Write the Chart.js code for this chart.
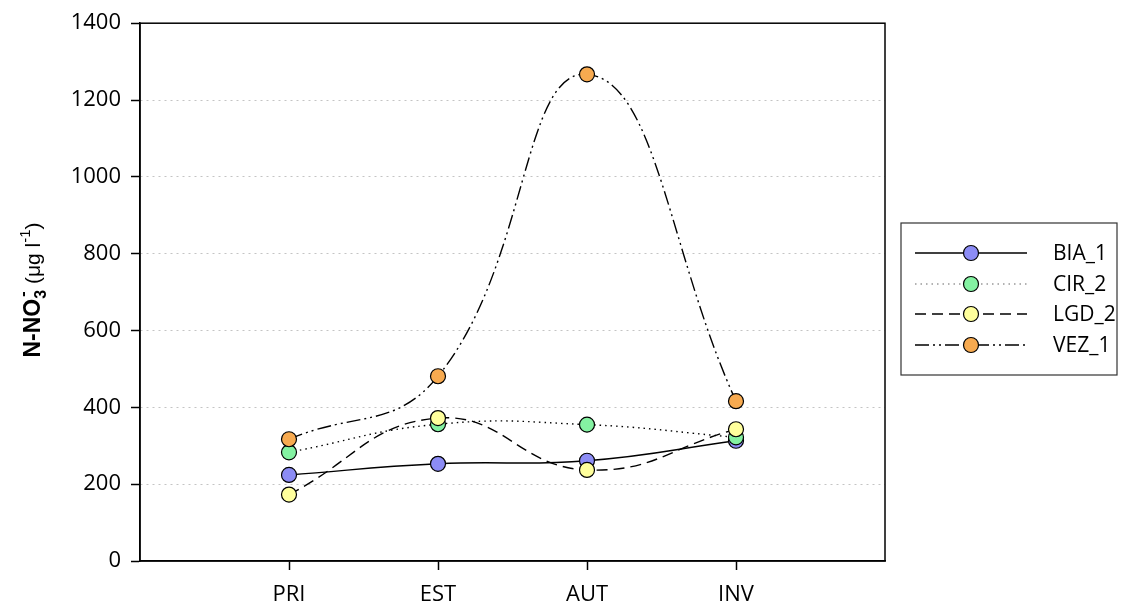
<!DOCTYPE html>
<html>
<head>
<meta charset="utf-8">
<script src="https://cdn.jsdelivr.net/npm/chart.js@4/dist/chart.umd.min.js"></script>
<style>
  html, body { margin: 0; padding: 0; background: #fff; }
  #wrap { width: 1123px; height: 608px; }
</style>
</head>
<body>
<div id="wrap"><canvas id="chart" width="1123" height="608"></canvas></div>
<script>
// categories (x positions 1..4 on a 0..5 axis)
const seasons = ['PRI', 'EST', 'AUT', 'INV'];
const seasonPos = [1, 2, 3, 4];

// N-NO3 values (ug/l)
const bia1 = [224, 253, 261, 313];
const cir2 = [283, 356, 355, 322];
const lgd2 = [173, 372, 237, 343];
const vez1 = [317, 481, 1267, 416];

const seriesNames = ['BIA_1', 'CIR_2', 'LGD_2', 'VEZ_1'];
const seriesFill = ['#8c8cf5', '#84f2a2', '#ffff9c', '#f7aa50'];
const seriesDash = [[], [1.5, 4], [11, 6], [14, 4, 2, 4, 2, 4]];

const FONT = '"Open Sans", "DejaVu Sans", sans-serif';
const TFONT = '"Liberation Sans", Arial, sans-serif';

function toPoints(vals) {
    return seasonPos.map((x, i) => ({ x: x, y: vals[i] }));
}

function makeSet(i, vals) {
    return {
        label: seriesNames[i],
        data: toPoints(vals),
        borderColor: '#000',
        borderWidth: 1.4,
        borderDash: seriesDash[i],
        tension: 0.45,
        pointRadius: 7.5,
        pointHoverRadius: 7.5,
        pointBorderColor: '#000',
        pointBorderWidth: 1.2,
        pointBackgroundColor: seriesFill[i],
        order: 4 - i
    };
}

// box around plot area
const frameBox = {
    id: 'frameBox',
    beforeDatasetsDraw(chart) {
        const a = chart.chartArea, ctx = chart.ctx;
        ctx.save();
        ctx.strokeStyle = '#000';
        ctx.lineWidth = 1.5;
        ctx.strokeRect(a.left, a.top, a.right - a.left, a.bottom - a.top);
        ctx.restore();
    }
};

// rotated y title with sub/superscripts
const yTitle = {
    id: 'yTitle',
    afterDraw(chart) {
        const ctx = chart.ctx;
        const parts = [
            { t: 'N-NO', f: 'bold 23px ' + TFONT, dy: 0 },
            { t: '3', f: 'bold 16px ' + TFONT, dy: 6 },
            { t: '-', f: 'bold 16px ' + TFONT, dy: -12, back: true },
            { t: ' (μg l', f: '21px ' + TFONT, dy: 0 },
            { t: '-1', f: '15px ' + TFONT, dy: -10 },
            { t: ')', f: '21px ' + TFONT, dy: 0 }
        ];
        ctx.save();
        let total = 0, lastW = 0;
        parts.forEach(p => {
            ctx.font = p.f;
            p.w = ctx.measureText(p.t).width;
            if (p.back) { total += Math.max(0, p.w + 2 - lastW); }
            else { total += p.w; }
            lastW = p.w;
        });
        ctx.translate(40, 290);
        ctx.rotate(-Math.PI / 2);
        ctx.fillStyle = '#000';
        ctx.textBaseline = 'alphabetic';
        let x = -total / 2, prevX = x;
        parts.forEach(p => {
            ctx.font = p.f;
            if (p.back) {
                ctx.fillText(p.t, prevX + 2, p.dy);
                x = Math.max(x, prevX + 2 + p.w);
            } else {
                ctx.fillText(p.t, x, p.dy);
                prevX = x;
                x += p.w;
            }
        });
        ctx.restore();
    }
};

// legend with line + marker glyphs
const boxLegend = {
    id: 'boxLegend',
    afterDraw(chart) {
        const ctx = chart.ctx;
        ctx.save();
        ctx.strokeStyle = '#333';
        ctx.lineWidth = 1.2;
        ctx.strokeRect(901, 223, 216, 152);
        const rows = [253, 284, 314, 345];
        seriesNames.forEach((name, i) => {
            const y = rows[i];
            ctx.strokeStyle = i === 1 ? '#999' : '#000';
            ctx.lineWidth = 1.4;
            ctx.setLineDash(seriesDash[i]);
            ctx.beginPath();
            ctx.moveTo(915, y);
            ctx.lineTo(1027, y);
            ctx.stroke();
            ctx.setLineDash([]);
            ctx.beginPath();
            ctx.arc(971, y, 7.5, 0, Math.PI * 2);
            ctx.fillStyle = seriesFill[i];
            ctx.fill();
            ctx.strokeStyle = '#000';
            ctx.lineWidth = 1.2;
            ctx.stroke();
            ctx.fillStyle = '#000';
            ctx.font = '21px ' + FONT;
            ctx.textBaseline = 'middle';
            ctx.fillText(name, 1053, y + 1);
        });
        ctx.restore();
    }
};

new Chart(document.getElementById('chart'), {
    type: 'line',
    data: {
        datasets: [makeSet(0, bia1), makeSet(1, cir2), makeSet(2, lgd2), makeSet(3, vez1)]
    },
    options: {
        responsive: false,
        animation: false,
        devicePixelRatio: 1,
        layout: { padding: { left: 0, right: 238, top: 23, bottom: 0 } },
        plugins: { legend: { display: false }, tooltip: { enabled: false } },
        events: [],
        scales: {
            x: {
                type: 'linear',
                min: 0,
                max: 5,
                afterFit: (s) => { s.height = 47; },
                ticks: {
                    stepSize: 1,
                    autoSkip: false,
                    maxRotation: 0,
                    padding: 12,
                    color: '#000',
                    font: { family: FONT, size: 22 },
                    callback: (v) => seasons[seasonPos.indexOf(v)] || ''
                },
                grid: {
                    drawOnChartArea: false,
                    tickLength: 9,
                    tickWidth: 1.5,
                    tickColor: (c) => (c.tick && c.tick.value >= 1 && c.tick.value <= 4) ? '#000' : 'rgba(0,0,0,0)'
                },
                border: { color: '#000', width: 1.5 }
            },
            y: {
                min: 0,
                max: 1400,
                afterFit: (s) => { s.width = 140; },
                ticks: {
                    stepSize: 200,
                    padding: 10,
                    color: '#000',
                    font: { family: FONT, size: 22 },
                    callback: (v) => String(v)
                },
                grid: {
                    color: (c) => (c.tick && (c.tick.value === 0 || c.tick.value === 1400)) ? 'rgba(0,0,0,0)' : '#c4c4c4',
                    lineWidth: 1,
                    tickLength: 9,
                    tickWidth: 1.5,
                    tickColor: '#000'
                },
                border: { color: '#000', width: 1.5, dash: [2, 4] }
            }
        }
    },
    plugins: [frameBox, yTitle, boxLegend]
});
</script>
</body>
</html>
